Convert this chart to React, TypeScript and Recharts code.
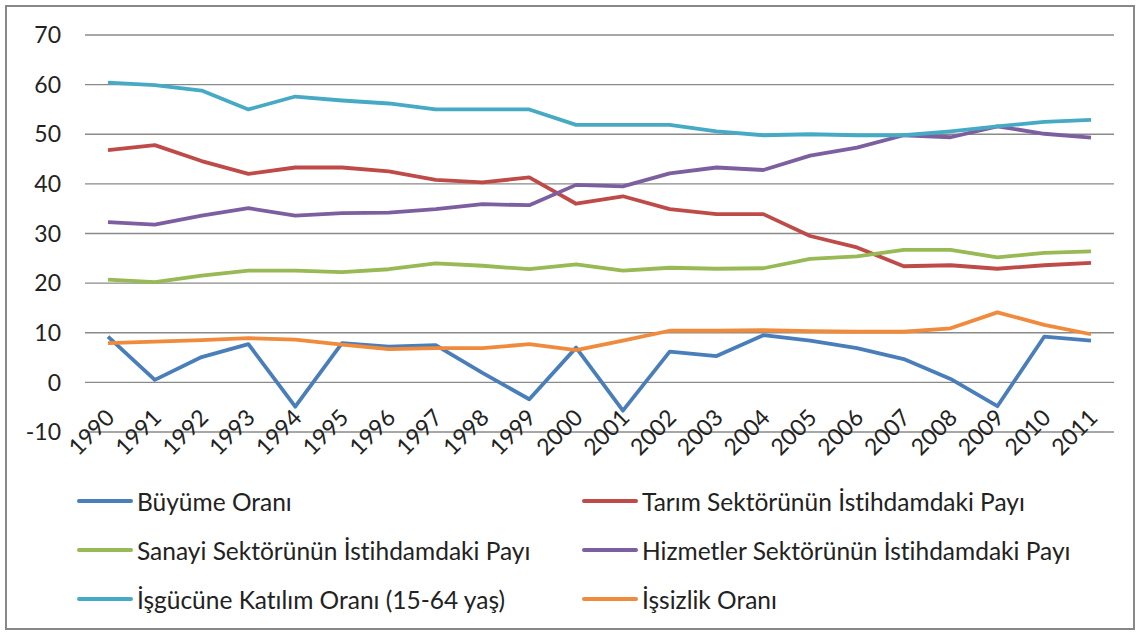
import React from 'react';
import { LineChart, Line, XAxis, YAxis, CartesianGrid } from 'recharts';

const years = [
  '1990', '1991', '1992', '1993', '1994', '1995', '1996', '1997', '1998', '1999', '2000',
  '2001', '2002', '2003', '2004', '2005', '2006', '2007', '2008', '2009', '2010', '2011',
];

const buyume = [9.2, 0.5, 5.1, 7.7, -4.9, 7.9, 7.2, 7.5, 1.9, -3.4, 7.0, -5.7, 6.2, 5.3, 9.5, 8.4, 6.9, 4.7, 0.7, -4.8, 9.2, 8.4];
const tarim = [46.8, 47.8, 44.6, 42.0, 43.3, 43.3, 42.5, 40.8, 40.3, 41.3, 36.0, 37.5, 34.9, 33.9, 33.9, 29.5, 27.2, 23.4, 23.6, 22.9, 23.6, 24.1];
const sanayi = [20.7, 20.2, 21.5, 22.5, 22.5, 22.2, 22.8, 24.0, 23.5, 22.8, 23.8, 22.5, 23.1, 22.9, 23.0, 24.9, 25.4, 26.7, 26.7, 25.2, 26.1, 26.4];
const hizmetler = [32.3, 31.8, 33.6, 35.1, 33.6, 34.1, 34.2, 34.9, 35.9, 35.7, 39.8, 39.5, 42.1, 43.3, 42.8, 45.7, 47.3, 49.8, 49.4, 51.6, 50.1, 49.3];
const isgucu = [60.4, 59.9, 58.8, 55.0, 57.6, 56.8, 56.2, 55.0, 55.0, 55.0, 51.9, 51.9, 51.9, 50.6, 49.8, 50.0, 49.8, 49.8, 50.6, 51.6, 52.5, 52.9];
const issizlik = [7.9, 8.2, 8.5, 8.9, 8.6, 7.6, 6.7, 6.9, 6.9, 7.7, 6.5, 8.4, 10.4, 10.4, 10.5, 10.3, 10.2, 10.2, 10.9, 14.1, 11.6, 9.7];

const yTicks = [-10, 0, 10, 20, 30, 40, 50, 60, 70];

const series = [
  { key: 'buyume', name: 'Büyüme Oranı', color: '#4A7EBB', values: buyume },
  { key: 'tarim', name: 'Tarım Sektörünün İstihdamdaki Payı', color: '#BE4B48', values: tarim },
  { key: 'sanayi', name: 'Sanayi Sektörünün İstihdamdaki Payı', color: '#98B954', values: sanayi },
  { key: 'hizmetler', name: 'Hizmetler Sektörünün İstihdamdaki Payı', color: '#7D5FA0', values: hizmetler },
  { key: 'isgucu', name: 'İşgücüne Katılım Oranı (15-64 yaş)', color: '#46AAC5', values: isgucu },
  { key: 'issizlik', name: 'İşsizlik Oranı', color: '#F08A3C', values: issizlik },
];

const data = years.map((year, i) => {
  const row: Record<string, string | number> = { year };
  series.forEach((s) => {
    row[s.key] = s.values[i];
  });
  return row;
});

const FONT = 'Lato, "Liberation Sans", sans-serif';

const YearTick = (props: any) => {
  const { x, y, payload } = props;
  return (
    <g transform={`translate(${x + 8},${y - 21})`}>
      <text textAnchor="end" transform="rotate(-45)" fill="#222" fontSize={23} fontFamily={FONT}>
        {payload.value}
      </text>
    </g>
  );
};

export default function App() {
  return (
    <div style={{ position: 'absolute', left: 0, top: 0, width: 1140, height: 634, background: '#fff', fontFamily: FONT }}>
      <div
        style={{
          position: 'absolute',
          left: 5,
          top: 5,
          width: 1126,
          height: 621,
          border: '2px solid #888',
        }}
      />
      <div style={{ position: 'absolute', left: 0, top: 0 }}>
        <LineChart width={1140} height={634} data={data} margin={{ top: 35, right: 26, left: 0, bottom: 172 }}>
          <CartesianGrid vertical={false} stroke="#8a8a8a" strokeWidth={1.3} />
          <XAxis
            dataKey="year"
            type="category"
            interval={0}
            height={30}
            padding={{ left: 23, right: 23 }}
            axisLine={false}
            tickLine={false}
            tick={<YearTick />}
          />
          <YAxis
            type="number"
            domain={[-10, 70]}
            ticks={yTicks}
            width={85}
            axisLine={false}
            tickLine={false}
            tickMargin={18}
            tick={{ fill: '#222', fontSize: 23, fontFamily: FONT }}
          />
          {series.map((s) => (
            <Line
              key={s.key}
              dataKey={s.key}
              name={s.name}
              stroke={s.color}
              strokeWidth={3.8}
              dot={false}
              activeDot={false}
              isAnimationActive={false}
              strokeLinejoin="round"
            />
          ))}
        </LineChart>
      </div>
      {series.map((s, i) => {
        const col = i % 2;
        const row = Math.floor(i / 2);
        return (
          <div
            key={s.key}
            style={{
              position: 'absolute',
              left: col === 0 ? 77 : 582,
              top: 486 + row * 49,
              height: 30,
              display: 'flex',
              alignItems: 'center',
              whiteSpace: 'nowrap',
            }}
          >
            <span style={{ display: 'inline-block', width: 56, height: 4, background: s.color, borderRadius: 2, marginRight: 4 }} />
            <span style={{ fontSize: 24.5, color: '#222', fontFamily: FONT, fontVariantLigatures: 'none' }}>{s.name}</span>
          </div>
        );
      })}
    </div>
  );
}
